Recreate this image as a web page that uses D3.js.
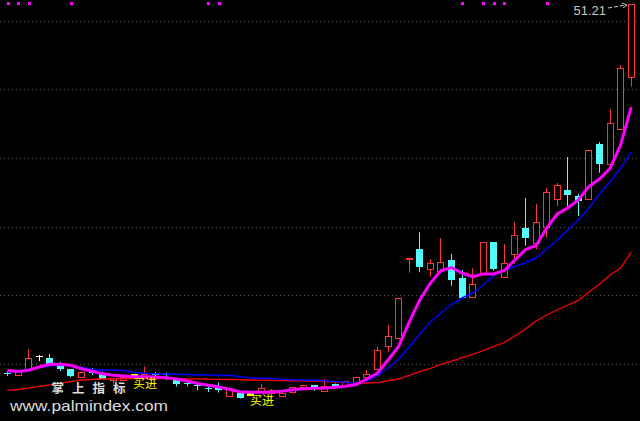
<!DOCTYPE html>
<html><head><meta charset="utf-8">
<script src="https://cdn.jsdelivr.net/npm/d3@7"></script>
<style>html,body{margin:0;padding:0;background:#000;overflow:hidden}</style>
</head><body>
<svg id="c" width="640" height="421"></svg>
<script>
const openP = [13.57,13.37,13.98,15.31,15.10,14.29,13.93,13.16,13.72,13.62, 12.81,12.81,13.01,13.42,13.52,13.47,12.91,12.55,12.30,12.04, 12.09,11.26,11.56,11.23,11.66,11.53,11.26,11.66,12.11,12.32, 11.77,12.45,12.30,12.52,13.19,13.95,16.33,17.11,25.20,26.22, 24.21,24.01,25.10,23.23,21.35,23.74,26.90,23.39,25.68,28.39, 26.80,28.43,31.29,32.24,31.60,31.35,36.93,34.86,38.41,43.79];
const highP = [13.78,13.88,16.02,15.41,15.51,14.69,13.98,13.72,14.08,13.72, 13.09,13.37,13.52,14.22,13.67,13.62,13.06,12.76,12.50,12.20, 12.58,11.99,11.58,11.63,12.45,11.94,11.58,12.14,12.33,12.35, 12.96,12.50,12.76,13.22,13.88,16.25,18.47,21.22,25.37,27.92, 25.20,27.34,25.71,24.08,24.25,26.93,26.93,26.73,28.97,31.42, 30.81,32.44,32.95,35.60,31.83,36.37,37.13,40.47,44.99,51.21];
const lowP = [13.27,13.27,13.93,14.80,14.34,13.78,13.16,13.06,13.37,12.96, 12.50,12.76,13.01,13.37,13.22,12.86,12.20,12.20,11.79,11.63, 11.58,11.23,10.97,11.23,11.63,11.48,11.23,11.63,11.84,11.74, 11.74,12.09,12.14,12.45,13.16,13.88,15.74,17.04,23.80,23.90, 23.39,23.98,22.48,21.22,21.32,23.67,24.01,23.36,24.76,26.56, 26.19,27.41,30.61,30.53,29.59,31.32,34.00,34.84,38.36,42.78];
const closeP = [13.52,13.78,15.10,15.31,14.39,13.98,13.22,13.67,13.62,13.01, 13.06,13.16,13.52,13.57,13.42,13.32,12.42,12.45,12.20,11.94, 11.84,11.94,11.02,11.63,12.04,11.84,11.56,12.11,12.32,12.01, 12.22,12.14,12.73,13.16,13.50,15.92,17.35,21.19,25.35,24.41, 24.76,24.86,23.06,21.25,22.62,26.90,24.18,24.76,27.62,27.37, 28.94,32.00,32.72,31.73,31.15,36.32,34.92,39.04,44.65,51.18];

const maFast = [13.83,13.72,13.85,14.18,14.46,14.46,14.36,14.01,13.75,13.49, 13.35,13.27,13.19,13.19,13.16,13.08,12.96,12.76,12.50,12.32, 12.14,11.92,11.66,11.60,11.60,11.61,11.70,11.87,11.96,12.01, 12.03,12.12,12.23,12.40,12.96,13.57,14.90,16.28,18.77,21.02, 22.75,24.03,24.33,23.77,23.39,23.67,23.67,24.03,25.10,26.17, 26.58,28.36,29.79,30.40,31.22,32.60,33.36,34.45,36.83,40.70];
const maMid = [13.67,13.72,13.88,14.13,14.29,14.39,14.29,14.15,13.96,13.88, 13.88,13.83,13.62,13.54,13.50,13.47,13.45,13.42,13.37,13.37, 13.32,13.34,13.19,13.06,13.03,13.00,12.93,12.89,12.86,12.83, 12.78,12.70,12.62,12.52,12.76,13.32,14.08,15.00,16.22,17.55, 18.77,19.69,20.56,21.22,21.73,22.55,23.47,24.08,24.44,24.84, 25.30,26.22,27.14,28.16,29.18,30.40,31.83,33.08,34.48,36.11];
const maSlow = [11.79,11.89,12.04,12.20,12.37,12.55,12.70,12.86,12.91,12.96, 12.98,13.01,13.01,13.01,13.00,12.99,12.98,12.96,12.96,12.94, 12.92,12.91,12.89,12.86,12.84,12.82,12.80,12.78,12.76,12.74, 12.71,12.65,12.62,12.57,12.55,12.60,12.76,12.96,13.32,13.71, 14.05,14.46,14.77,15.13,15.46,15.85,16.28,16.68,17.35,18.06, 18.88,19.49,20.00,20.51,20.97,21.83,22.62,23.57,24.28,25.91];

const gridLevels = [49.5, 42.5, 35.5, 28.5, 21.5, 14.5];
const buySignals = [12, 23];
const buyLabel = "买进";
const topMarks = [0, 1, 2, 6, 19, 20, 43, 45, 46, 47, 51];
const maxLabel = "51.21";
const brandCn = "掌上指标";
const brandUrl = "www.palmindex.com";

const W = 640, H = 421;
const svg = d3.select("#c");
svg.append("rect").attr("width", W).attr("height", H).attr("fill", "#000");

const n = closeP.length;
const x = d3.scaleLinear().domain([0, n - 1]).range([7.5, 631.2]);
const y = d3.scaleLinear().domain([8.676, 51.21]).range([421, 4]);

// grid
svg.append("g").selectAll("line").data(gridLevels).join("line")
  .attr("x1", 0).attr("x2", W)
  .attr("y1", d => Math.round(y(d)) + 0.5).attr("y2", d => Math.round(y(d)) + 0.5)
  .attr("stroke", "#5a5a5a").attr("stroke-width", 1).attr("stroke-dasharray", "1,3");

const RED = "#ff3434", CYAN = "#54fcfc", YEL = "#ffff00";
const cg = svg.append("g");
d3.range(n).forEach(i => {
  const o = openP[i], c = closeP[i], h = highP[i], l = lowP[i];
  const L = Math.round(x(i) - 3.5);
  const cx = L + 3.5;
  const yTop = Math.round(y(Math.max(o, c)));
  const yBot = Math.round(y(Math.min(o, c)));
  const yH = y(h), yL = y(l);
  if (buySignals.includes(i)) {
    cg.append("line").attr("x1", cx).attr("x2", cx).attr("y1", yH).attr("y2", yL).attr("stroke", YEL);
    cg.append("rect").attr("x", L).attr("y", yTop).attr("width", 7).attr("height", Math.max(1, yBot - yTop)).attr("fill", YEL);
  } else if (c > o) {
    cg.append("line").attr("x1", cx).attr("x2", cx).attr("y1", yH).attr("y2", yTop).attr("stroke", RED);
    cg.append("line").attr("x1", cx).attr("x2", cx).attr("y1", yBot).attr("y2", yL).attr("stroke", RED);
    cg.append("rect").attr("x", L + 0.5).attr("y", yTop + 0.5).attr("width", 6).attr("height", Math.max(1, yBot - yTop))
      .attr("fill", "#000").attr("stroke", RED).attr("stroke-width", 1);
  } else if (c < o) {
    cg.append("line").attr("x1", cx).attr("x2", cx).attr("y1", yH).attr("y2", yL).attr("stroke", CYAN);
    cg.append("rect").attr("x", L).attr("y", yTop).attr("width", 7).attr("height", Math.max(1, yBot - yTop)).attr("fill", CYAN);
  } else {
    cg.append("line").attr("x1", cx).attr("x2", cx).attr("y1", yH).attr("y2", yL).attr("stroke", "#fff");
    cg.append("line").attr("x1", L).attr("x2", L + 7).attr("y1", yTop + 0.5).attr("y2", yTop + 0.5).attr("stroke", "#fff");
  }
});

// moving average lines
const lineGen = arr => d3.line().x((d, i) => x(i)).y(d => y(d))(arr);
svg.append("path").attr("d", lineGen(maSlow)).attr("fill", "none").attr("stroke", "#ff0000").attr("stroke-width", 1.3);
svg.append("path").attr("d", lineGen(maMid)).attr("fill", "none").attr("stroke", "#0000ff").attr("stroke-width", 1.5);
svg.append("path").attr("d", lineGen(maFast)).attr("fill", "none").attr("stroke", "#ff00ff").attr("stroke-width", 3);

// top marks
svg.append("g").selectAll("rect").data(topMarks).join("rect")
  .attr("x", d => Math.round(x(d)) - 1).attr("y", 2).attr("width", 3).attr("height", 3).attr("fill", "#ff00ff");

// max label with arrow
const maxI = highP.indexOf(d3.max(highP));
const mx = Math.round(x(maxI) - 3.5);
const my = y(highP[maxI]);
svg.append("text").attr("x", mx - 22).attr("y", my + 11).attr("text-anchor", "end")
  .attr("font-family", "Liberation Sans, Arial, sans-serif").attr("font-size", 13).attr("fill", "#c8c8c8").text(maxLabel);
svg.append("path").attr("d", `M${mx - 20},${my + 4} L${mx - 2},${my + 1}`)
  .attr("stroke", "#c8c8c8").attr("fill", "none").attr("stroke-dasharray", "4,2");
svg.append("path").attr("d", `M${mx - 6},${my - 1} L${mx - 1},${my + 1} L${mx - 5},${my + 4}`)
  .attr("stroke", "#c8c8c8").attr("fill", "none");

// buy labels
svg.append("g").selectAll("text").data(buySignals).join("text")
  .attr("x", d => Math.round(x(d)) - 1).attr("y", d => Math.round(y(lowP[d])) + 9)
  .attr("font-family", "Noto Sans CJK SC, sans-serif").attr("font-size", 12).attr("fill", YEL).text(buyLabel);

// watermark
svg.append("text").attr("x", 51.5).attr("y", 393).attr("letter-spacing", 8)
  .attr("font-family", "Noto Sans CJK SC, sans-serif").attr("font-weight", "bold").attr("font-size", 12.5)
  .attr("fill", "#dcdcdc").text(brandCn);
svg.append("text").attr("x", 10).attr("y", 410.5)
  .attr("font-family", "Liberation Sans, Arial, sans-serif").attr("font-size", 15)
  .attr("textLength", 158).attr("lengthAdjust", "spacingAndGlyphs")
  .attr("fill", "#dcdcdc").text(brandUrl);
</script>
</body></html>
